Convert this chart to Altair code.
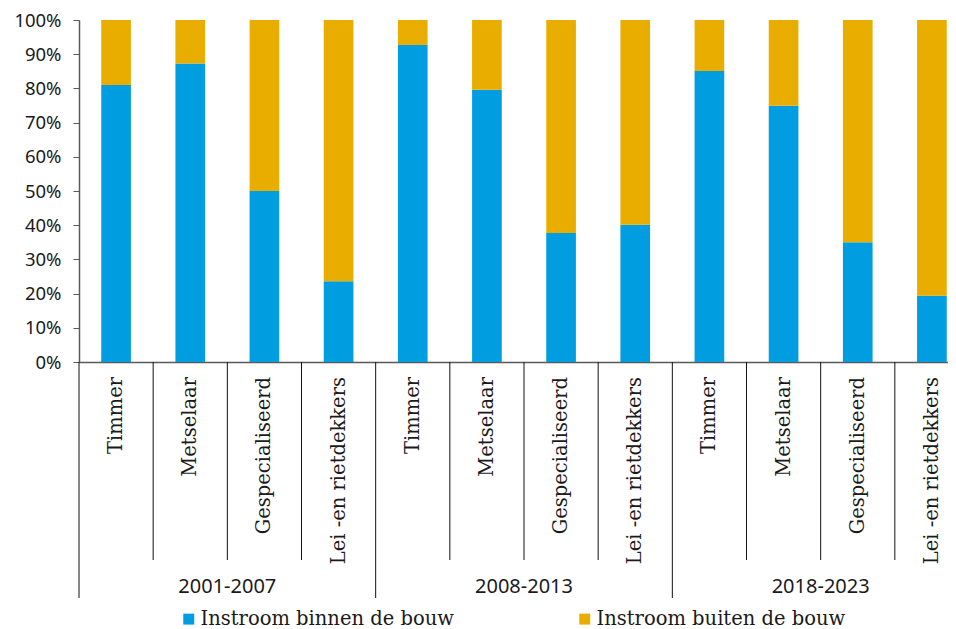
import altair as alt
import pandas as pd

periods = ["2001-2007", "2008-2013", "2018-2023"]
occupations = ["Timmer", "Metselaar", "Gespecialiseerd", "Lei -en rietdekkers"]
series = ["Instroom binnen de bouw", "Instroom buiten de bouw"]
binnen = [81.0, 87.3, 50.0, 23.6, 92.7, 79.6, 37.7, 40.1, 85.1, 74.9, 35.0, 19.4]
buiten = [19.0, 12.7, 50.0, 76.4, 7.3, 20.4, 62.3, 59.9, 14.9, 25.1, 65.0, 80.6]
colors = ["#009ee0", "#e9ad00"]
y_ticks = [0, 10, 20, 30, 40, 50, 60, 70, 80, 90, 100]

keys, rows, labels, occ_sep, per_sep = [], [], [], [], []
i = 0
for p in periods:
    for oi, o in enumerate(occupations):
        k = f"{p}|{o}"
        keys.append(k)
        rows.append(dict(key=k, series=series[0], value=binnen[i], ord=0))
        rows.append(dict(key=k, series=series[1], value=buiten[i], ord=1))
        labels.append(dict(key=k, occ=o))
        if oi == 0:
            per_sep.append(dict(key=k))
        else:
            occ_sep.append(dict(key=k))
        i += 1

df = pd.DataFrame(rows)
df_lab = pd.DataFrame(labels)
df_occ = pd.DataFrame(occ_sep)
df_per = pd.DataFrame(per_sep)
df_plab = pd.DataFrame({"period": periods})

SERIF = "DejaVu Serif"
SANS = "Noto Sans"
AX = "#595959"
TXT = "#1a1a1a"
RANGE = [0, 890]


def cell_scale():
    return alt.Scale(domain=keys, paddingInner=0, paddingOuter=0, range=RANGE)


bars = alt.Chart(df).mark_bar().encode(
    x=alt.X("key:N", sort=keys,
            scale=alt.Scale(domain=keys, paddingInner=0.6, paddingOuter=0.3, range=RANGE),
            axis=None),
    y=alt.Y("value:Q", stack="zero",
            scale=alt.Scale(domain=[0, 100], nice=False),
            axis=alt.Axis(values=y_ticks, labelExpr="datum.value + '%'", title=None,
                          grid=False, tickSize=6, tickColor=AX, domainColor=AX,
                          domainWidth=1.5, labelPadding=12, labelFont=SANS,
                          labelFontSize=18.5, labelColor=TXT)),
    color=alt.Color("series:N", sort=series,
                    scale=alt.Scale(domain=series, range=colors),
                    legend=alt.Legend(title=None, orient="none", direction="horizontal",
                                      legendX=100, legendY=589, symbolType="square",
                                      symbolSize=120, symbolStrokeWidth=0,
                                      labelFont=SERIF, labelFontSize=19.5, labelLimit=0,
                                      labelColor=TXT, columnPadding=121,
                                      labelOffset=2, padding=0)),
    order=alt.Order("ord:Q"),
)

baseline = alt.Chart(df_plab).mark_point(opacity=0).encode(
    x=alt.X("period:N", scale=alt.Scale(domain=periods),
            axis=alt.Axis(labels=False, ticks=False, title=None, domain=True,
                          domainColor=AX, domainWidth=1.5)),
    y=alt.value(342),
)

occ_rules = alt.Chart(df_occ).mark_rule(color="#111111", strokeWidth=1).encode(
    x=alt.X("key:N", scale=cell_scale(), bandPosition=0, axis=None),
    y=alt.value(342), y2=alt.value(540),
)
per_rules = alt.Chart(df_per).mark_rule(color="#111111", strokeWidth=1).encode(
    x=alt.X("key:N", scale=cell_scale(), bandPosition=0, axis=None),
    y=alt.value(342), y2=alt.value(578),
)
occ_text = alt.Chart(df_lab).mark_text(
    angle=270, align="right", baseline="middle", font=SERIF, fontSize=19.5, color=TXT
).encode(
    x=alt.X("key:N", scale=cell_scale(), bandPosition=0.5, axis=None),
    y=alt.value(357),
    text="occ:N",
)
per_text = alt.Chart(df_plab).mark_text(
    align="center", baseline="middle", font=SANS, fontSize=20, color=TXT
).encode(
    x=alt.X("period:N",
            scale=alt.Scale(domain=periods, paddingInner=0, paddingOuter=0, range=RANGE),
            bandPosition=0.5, axis=None),
    y=alt.value(567),
    text="period:N",
)

chart = alt.layer(bars, baseline, occ_rules, per_rules, occ_text, per_text).resolve_scale(
    x="independent"
).properties(
    width=869, height=342,
    autosize=alt.AutoSizeParams(type="none"),
    padding={"left": 71, "top": 12, "right": 0, "bottom": 267},
).configure_view(stroke=None)

chart.save("out.html", embed_options={"renderer": "svg", "actions": False})
